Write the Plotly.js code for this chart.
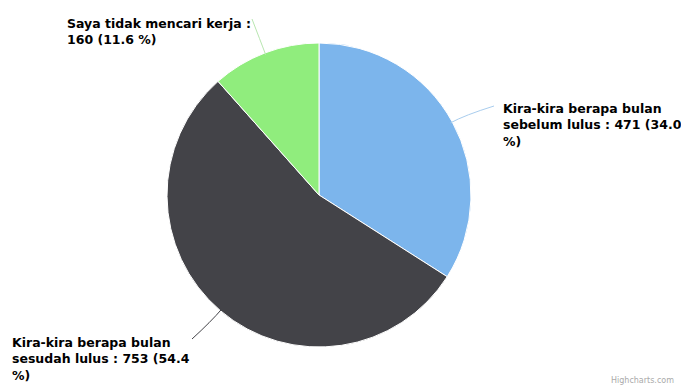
<!DOCTYPE html>
<html>
<head>
<meta charset="utf-8">
<script src="https://cdn.plot.ly/plotly-3.0.1.min.js"></script>
<style>html,body{margin:0;padding:0;background:#fff;}#chart{width:681px;height:387px;}</style>
</head>
<body>
<div id="chart"></div>
<script>
const labels = ["Kira-kira berapa bulan sebelum lulus", "Kira-kira berapa bulan sesudah lulus", "Saya tidak mencari kerja"];
const values = [471, 753, 160];
const percents = ["34.0", "54.4", "11.6"];
const colors = ["#7cb5ec", "#434348", "#90ed7d"];

const W = 681, H = 387;
const cx = 319, cy = 195, R = 152;
const px = x => x / W;
const py = y => 1 - y / H;

const total = values.reduce((a, b) => a + b, 0);
// mid angles (clockwise from 12 o'clock)
let acc = 0;
const mids = values.map(v => { const m = (acc + v / 2) / total * 2 * Math.PI; acc += v; return m; });
const edge = (a, r) => [cx + r * Math.sin(a), cy - r * Math.cos(a)];

const labelText = [
  "Kira-kira berapa bulan<br>sebelum lulus : " + values[0] + " (" + percents[0] + "<br>%)",
  "Kira-kira berapa bulan<br>sesudah lulus : " + values[1] + " (" + percents[1] + "<br>%)",
  "Saya tidak mencari kerja :<br>" + values[2] + " (" + percents[2] + " %)"
];
const labelPos = [[501, 125], [10, 359], [65, 31.5]];
const connEnd = [[494, 106], [192, 339], [252, 19]];

const annotations = labelText.map((t, i) => ({
  xref: "paper", yref: "paper",
  x: px(labelPos[i][0]), y: py(labelPos[i][1]),
  xanchor: "left", yanchor: "middle", align: "left",
  text: t, showarrow: false,
  font: {family: "DejaVu Sans", size: 12.5, weight: "bold", color: "#000"}
}));
annotations.push({
  xref: "paper", yref: "paper", x: px(676), y: py(380), xanchor: "right", yanchor: "middle",
  text: "Highcharts.com", showarrow: false,
  font: {family: "DejaVu Sans", size: 8, color: "#aaa"}
});

const connColors = ["#a9cdee", "#434348", "#b8e6b0"];
const shapes = mids.map((a, i) => {
  const e = edge(a, R - 2);
  const o = edge(a, R + 14);
  const t = connEnd[i];
  return {
    type: "path", xref: "paper", yref: "paper",
    path: `M ${px(e[0])},${py(e[1])} Q ${px(o[0])},${py(o[1])} ${px(t[0])},${py(t[1])}`,
    line: {color: connColors[i], width: 1}
  };
});

const data = [{
  type: "pie",
  labels: labels,
  values: values,
  sort: false,
  direction: "clockwise",
  rotation: 0,
  marker: {colors: colors, line: {color: "#ffffff", width: 1}},
  textinfo: "none",
  hoverinfo: "label+value+percent",
  domain: {x: [px(cx - R), px(cx + R)], y: [py(cy + R), py(cy - R)]}
}];

const layout = {
  width: W, height: H,
  margin: {l: 0, r: 0, t: 0, b: 0},
  showlegend: false,
  paper_bgcolor: "#ffffff",
  annotations: annotations,
  shapes: shapes
};

Plotly.newPlot("chart", data, layout, {displayModeBar: false, staticPlot: true});
</script>
</body>
</html>
